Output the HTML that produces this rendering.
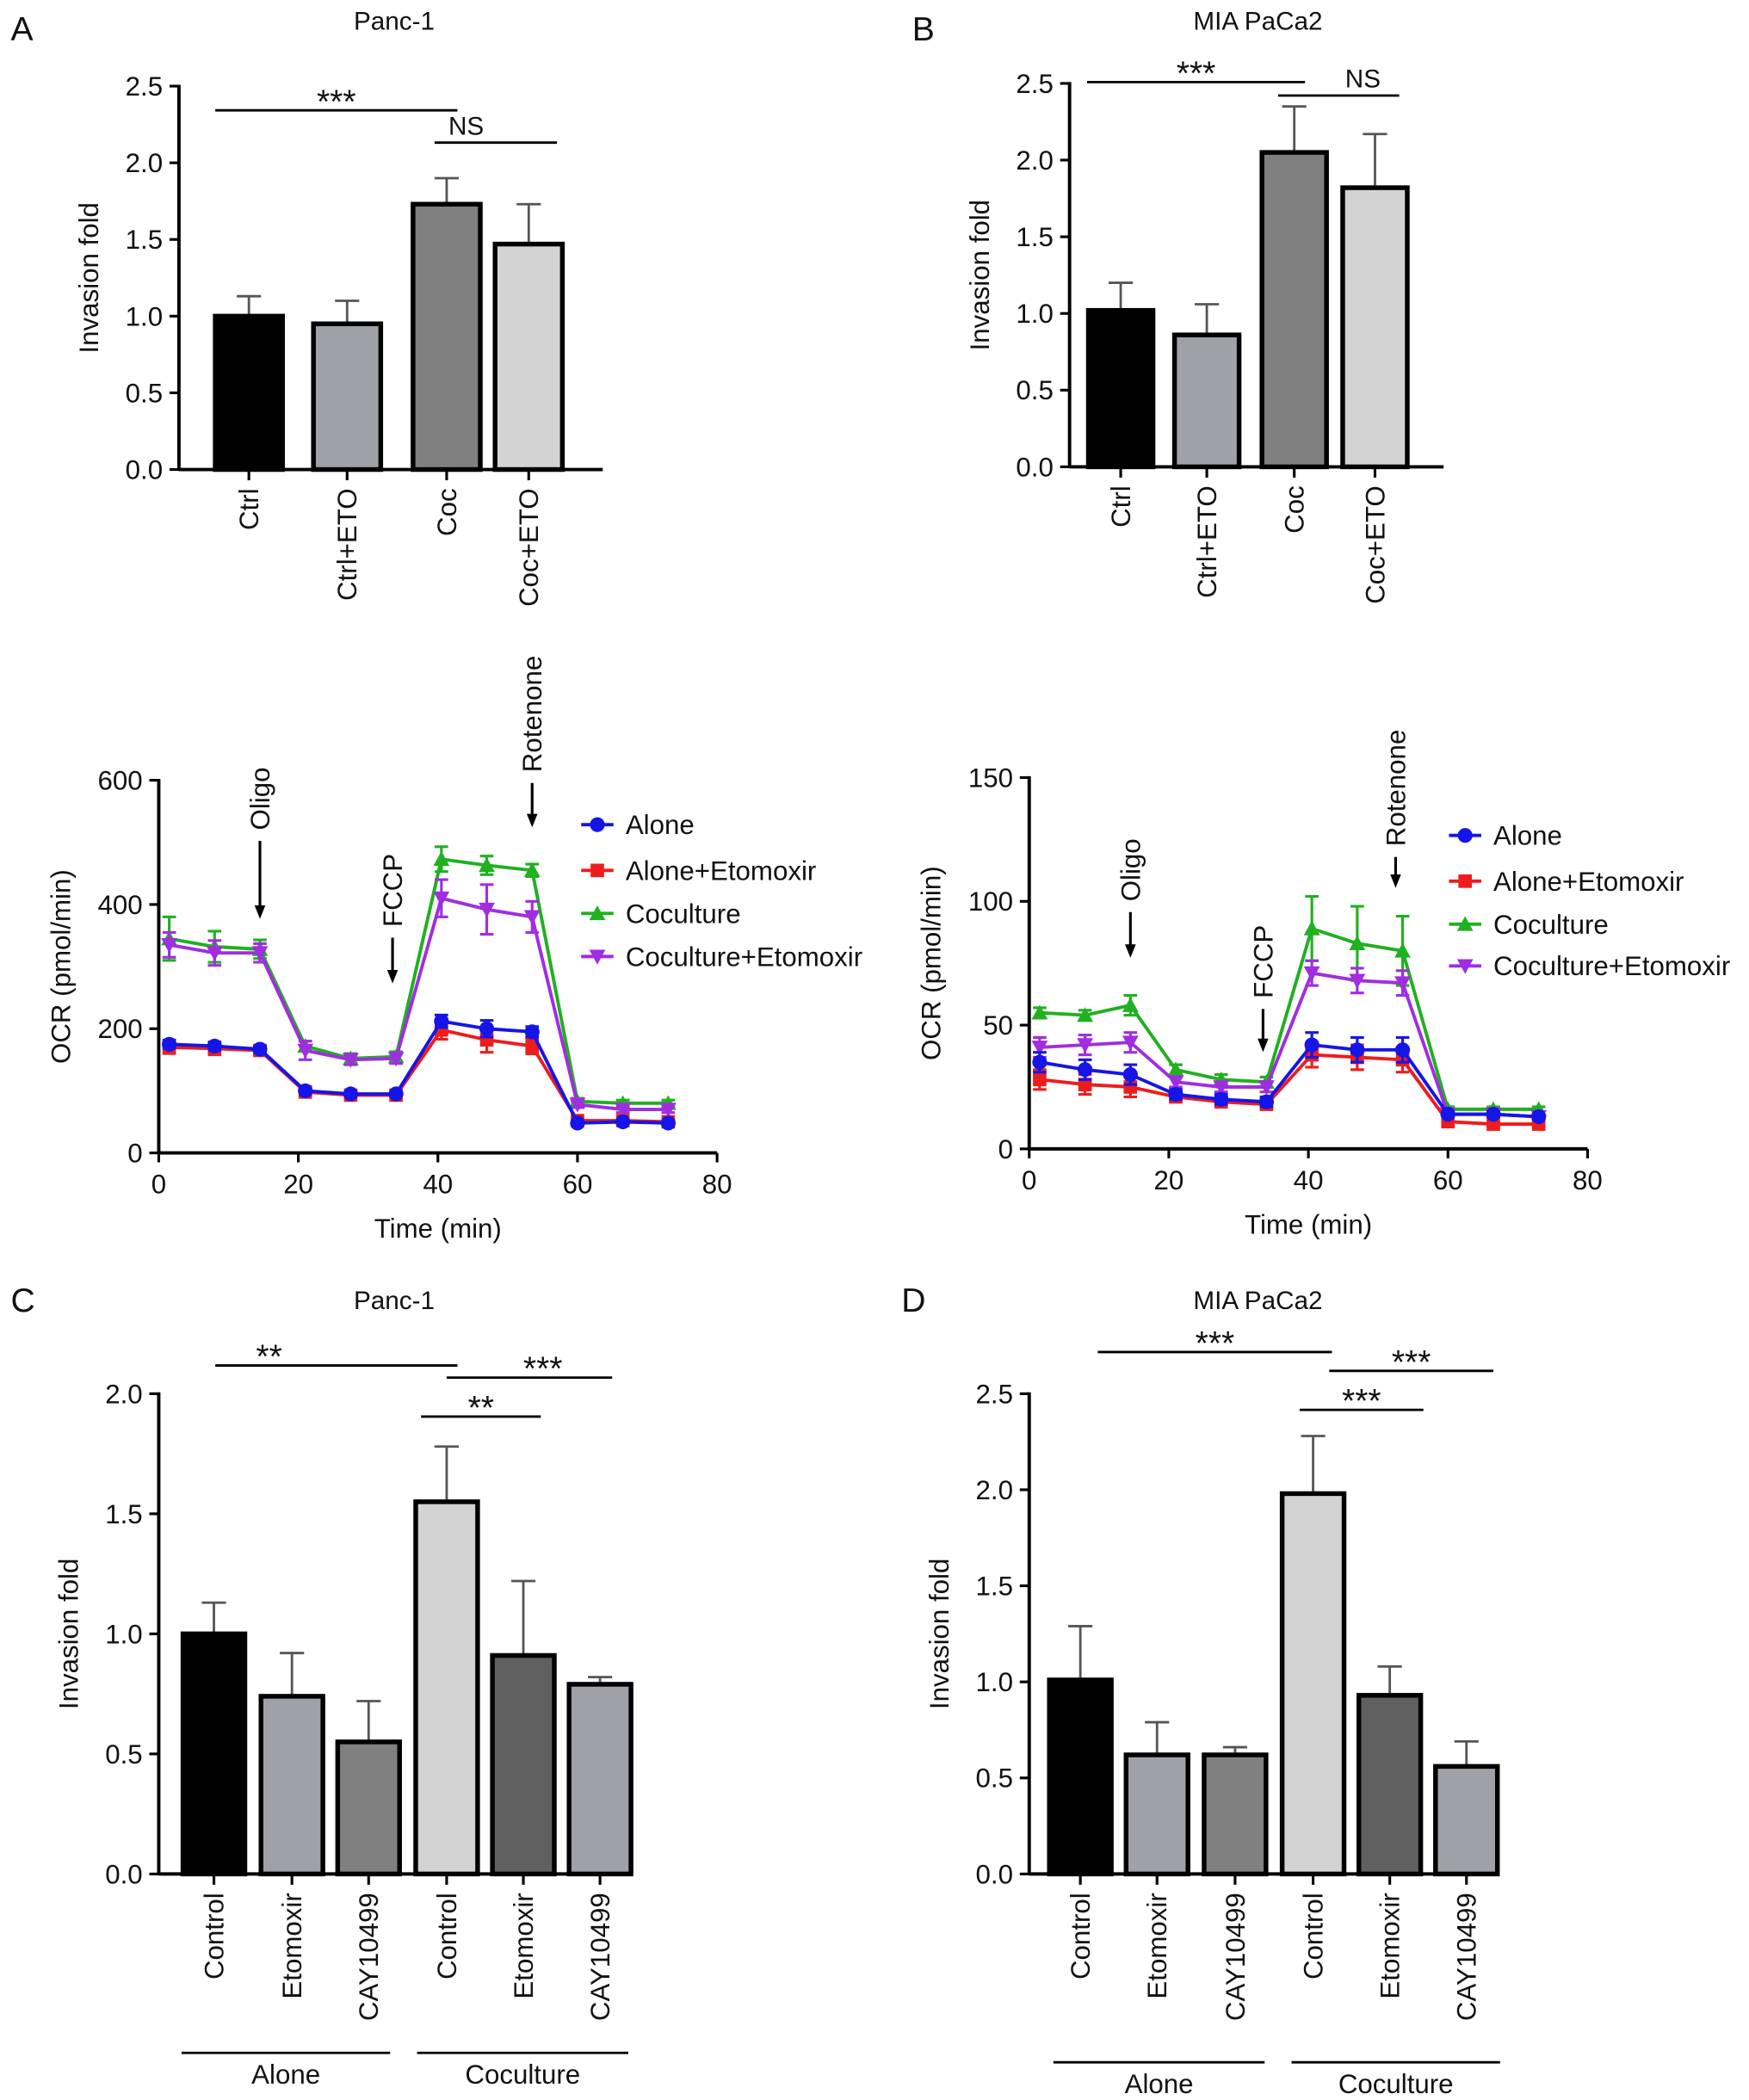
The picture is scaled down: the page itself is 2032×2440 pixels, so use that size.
<!DOCTYPE html>
<html><head><meta charset="utf-8"><style>
html,body{margin:0;padding:0;background:#fff;}
svg{display:block;font-family:"Liberation Sans",sans-serif;}
</style></head><body>
<svg id="fig" width="2032" height="2440" viewBox="0 0 1300 1561" xmlns="http://www.w3.org/2000/svg"></svg>
<script>
// ---------- Data ----------
const barCatsA = ["Ctrl","Ctrl+ETO","Coc","Coc+ETO"];
const barValsA = [1.0,0.95,1.73,1.47];
const barErrA = [0.13,0.15,0.17,0.26];
const barValsB = [1.02,0.86,2.05,1.82];
const barErrB = [0.18,0.2,0.3,0.35];
const barCatsC = ["Control","Etomoxir","CAY10499","Control","Etomoxir","CAY10499"];
const barValsC = [1.0,0.74,0.55,1.55,0.91,0.79];
const barErrC = [0.13,0.18,0.17,0.23,0.31,0.03];
const barValsD = [1.01,0.62,0.62,1.98,0.93,0.56];
const barErrD = [0.28,0.17,0.04,0.3,0.15,0.13];
const ticks25 = [0,0.5,1.0,1.5,2.0,2.5];
const ticks20 = [0,0.5,1.0,1.5,2.0];
const timePts = [1.5,8,14.5,21,27.5,34,40.5,47,53.5,60,66.5,73];
const seriesNames = ["Alone","Alone+Etomoxir","Coculture","Coculture+Etomoxir"];
const ocrL_alone = [175,172,167,100,95,95,212,200,195,48,50,48];
const ocrL_aloneEto = [170,168,165,98,93,93,198,182,172,52,52,50];
const ocrL_coc = [345,332,328,172,152,155,473,463,455,83,80,80];
const ocrL_cocEto = [335,322,322,165,150,152,410,392,380,78,70,70];
const ocrL_errCoc = [35,25,15,8,8,8,20,15,10,5,5,5];
const ocrL_errEto = [20,20,15,15,8,8,30,40,25,5,5,5];
const ocrR_alone = [35,32,30,22,20,19,42,40,40,14,14,13];
const ocrR_aloneEto = [28,26,25,21,19,18,38,37,36,11,10,10];
const ocrR_coc = [55,54,58,32,28,27,89,83,80,16,16,16];
const ocrR_cocEto = [41,42,43,27,25,25,71,68,67,14,14,13];
const ocrR_errCoc = [2,2,4,2,2,2,13,15,14,1,1,1];
const ocrR_errEto = [4,4,4,2,2,2,5,5,5,1,1,1];
const xTicks = [0,20,40,60,80];
const yTicksL = [0,200,400,600];
const yTicksR = [0,50,100,150];

const NS="http://www.w3.org/2000/svg";
const svg=document.getElementById('fig');
function el(tag,attrs,parent,txt){const e=document.createElementNS(NS,tag);for(const k in attrs)e.setAttribute(k,attrs[k]);if(txt!==undefined)e.textContent=txt;(parent||svg).appendChild(e);return e;}
function line(x1,y1,x2,y2,w,c,p){return el('line',{x1,y1,x2,y2,stroke:c||'#000','stroke-width':w||2},p);}
function text(x,y,s,size,anchor,p,rot){const a={x,y,'font-size':size,'text-anchor':anchor||'middle',fill:'#111'};if(rot)a.transform=`rotate(-90 ${x} ${y})`;return el('text',a,p,s);}

function barChart(o){
  const g=el('g',{});
  
  
  const ys=v=>o.y0-(v/o.ymax)*(o.y0-o.ytop);
  line(o.ax,o.ytop-1,o.ax,o.y0+1,2.5,'#000',g);
  line(o.ax,o.y0,o.xend,o.y0,2.5,'#000',g);
  o.ticks.forEach(t=>{const y=ys(t);line(o.ax-7,y,o.ax,y,2,'#000',g);
    const tl=text(o.ax-12,y+7,t.toFixed(1),20,'end',g);
    });
  const yl=text(o.ax-60,(o.y0+o.ytop)/2,'Invasion fold',20,'middle',g,true);
  
  o.vals.forEach((v,i)=>{const cx=o.cx[i],w=o.bw,y=ys(v);
    const ey=ys(v+o.err[i]);
    line(cx,y,cx,ey,1.8,'#555',g);line(cx-9,ey,cx+9,ey,1.8,'#555',g);
    const r=el('rect',{x:cx-w/2,y:y,width:w,height:o.y0-y,fill:o.colors[i],stroke:'#000','stroke-width':3.5},g);
    
    line(cx,o.y0,cx,o.y0+8,2,'#000',g);
    const tl=text(cx+7,o.y0+14,o.cats[i],20,'end',g,true);
    
  });
  o.brackets.forEach(b=>{line(b[0],b[2],b[1],b[2],1.8,'#000',g);
    const isNS=b[3]==='NS';
    const t=text((b[0]+b[1])/2+(b[4]||0),isNS?b[2]-6:b[2]+2,b[3],isNS?19:25,'middle',g);
    });
  const tt=text(o.titleX,o.titleY,o.title,19,'middle',g);
  
  if(o.letter){const pl=text(o.letterX,30,o.letter,25,'start',g);
  }
  if(o.groups)o.groups.forEach(gr=>{line(gr[0],o.groupY,gr[1],o.groupY,1.8,'#000',g);
    const t=text((gr[0]+gr[1])/2,o.groupY+23,gr[2],20,'middle',g);
    });
}

barChart({name:'panel-a-chart',ax:133,y0:349,ytop:64,ymax:2.5,xend:448,ticks:ticks25,vals:barValsA,err:barErrA,cats:barCatsA,
  cx:[185,258,332,393],bw:50,colors:['#000','#a0a0a8','#808080','#d3d3d3'],
  brackets:[[160,340,82,'***'],[323,414,106,'NS',-22]],title:'Panc-1',titleX:293,titleY:22,letter:'A',letterX:8});
barChart({name:'panel-b-chart',ax:795,y0:347,ytop:62,ymax:2.5,xend:1073,ticks:ticks25,vals:barValsB,err:barErrB,cats:barCatsA,
  cx:[833,897,962,1022],bw:48,colors:['#000','#a0a0a8','#808080','#d3d3d3'],
  brackets:[[808,970,61,'***'],[950,1040,71,'NS',18]],title:'MIA PaCa2',titleX:935,titleY:22,letter:'B',letterX:678});
barChart({name:'panel-c-chart',ax:118,y0:1393,ytop:1036,ymax:2.0,xend:470,ticks:ticks20,vals:barValsC,err:barErrC,cats:barCatsC,
  cx:[159,217,274,332,389,446],bw:46,colors:['#000','#a0a0a8','#808080','#d3d3d3','#606060','#a0a0a8'],
  brackets:[[160,340,1015,'**',-50],[332,455,1024,'***',10],[313,402,1053,'**']],title:'Panc-1',titleX:293,titleY:973,letter:'',letterX:0,
  groups:[[135,290,'Alone'],[310,467,'Coculture']],groupY:1526});
barChart({name:'panel-d-chart',ax:765,y0:1393,ytop:1036,ymax:2.5,xend:1113,ticks:ticks25,vals:barValsD,err:barErrD,cats:barCatsC,
  cx:[803,860,918,976,1033,1090],bw:46,colors:['#000','#a0a0a8','#808080','#d3d3d3','#606060','#a0a0a8'],
  brackets:[[816,990,1005,'***'],[988,1110,1019,'***'],[966,1058,1048,'***']],title:'MIA PaCa2',titleX:935,titleY:973,letter:'',letterX:0,
  groups:[[783,940,'Alone'],[960,1115,'Coculture']],groupY:1533});
[['C',8,975],['D',670,975]].forEach(l=>{const t=text(l[1],l[2],l[0],25,'start');
  });

function marker(g,type,x,y,c){
  let e;
  if(type===0)e=el('circle',{cx:x,cy:y,r:5.5,fill:c},g);
  else if(type===1)e=el('rect',{x:x-5,y:y-5,width:10,height:10,fill:c},g);
  else if(type===2)e=el('polygon',{points:`${x},${y-6} ${x-6},${y+5} ${x+6},${y+5}`,fill:c},g);
  else e=el('polygon',{points:`${x},${y+6} ${x-6},${y-5} ${x+6},${y-5}`,fill:c},g);
  return e;
}
function ocrChart(o){
  const g=el('g',{});
  
  
  const xs=t=>o.ax+t/80*(o.xend-o.ax);
  const ys=v=>o.y0-v/o.ymax*(o.y0-o.ytop);
  line(o.ax,o.ytop-1,o.ax,o.y0+1,2.5,'#000',g);
  line(o.ax,o.y0,o.xend,o.y0,2.5,'#000',g);
  o.yt.forEach(t=>{const y=ys(t);line(o.ax-7,y,o.ax,y,2,'#000',g);
    const l=text(o.ax-12,y+7,String(t),20,'end',g);});
  xTicks.forEach(t=>{const x=xs(t);line(x,o.y0,x,o.y0+7,2,'#000',g);
    const l=text(x,o.y0+30,String(t),20,'middle',g);});
  const xt=text(xs(40),o.y0+63,'Time (min)',20,'middle',g);
  const yt=text(o.ax-66,(o.y0+o.ytop)/2,'OCR (pmol/min)',20,'middle',g,true);
  const colors=['#1515e8','#ee1c1c','#20b020','#a02ee0'];
  const order=[2,3,1,0];
  order.forEach(si=>{const vals=o.series[si],err=o.errs[si],c=colors[si];
    const sg=el('g',{},g);
    
    
    const pts=timePts.map((t,i)=>xs(t)+','+ys(vals[i])).join(' ');
    el('polyline',{points:pts,fill:'none',stroke:c,'stroke-width':2.5},sg);
    timePts.forEach((t,i)=>{const x=xs(t),e=err[i];
      line(x,ys(vals[i]-e),x,ys(vals[i]+e),2,c,sg);
      line(x-5,ys(vals[i]+e),x+5,ys(vals[i]+e),2,c,sg);
      line(x-5,ys(vals[i]-e),x+5,ys(vals[i]-e),2,c,sg);
      const m=marker(sg,si,x,ys(vals[i]),c);
      });
  });
  o.arrows.forEach(a=>{const x=xs(a[0]);
    line(x,a[1],x,a[2]-8,2,'#000',g);
    el('polygon',{points:`${x-4},${a[2]-10} ${x+4},${a[2]-10} ${x},${a[2]}`,fill:'#000'},g);
    const t=text(x+7,a[1]-8,a[3],20,'start',g,true);});
  seriesNames.forEach((n,i)=>{const y=o.legY[i];const lg=el('g',{},g);
    
    line(o.legX,y,o.legX+24,y,2.5,colors[i],lg);marker(lg,i,o.legX+12,y,colors[i]);
    text(o.legX+33,y+7,n,20,'start',lg);});
}
ocrChart({name:'ocr-chart-panc1',ax:118,y0:857,ytop:580,ymax:600,xend:533,yt:yTicksL,
  series:[ocrL_alone,ocrL_aloneEto,ocrL_coc,ocrL_cocEto],errs:[ocrL_errEto.map(v=>v/3),ocrL_errEto.map(v=>v/2),ocrL_errCoc,ocrL_errEto],
  arrows:[[14.5,625,683,'Oligo'],[33.5,697,731,'FCCP'],[53.5,582,615,'Rotenone']],legX:432,legY:[613,647,679,711]});
ocrChart({name:'ocr-chart-miapaca2',ax:765,y0:854,ytop:578,ymax:150,xend:1180,yt:yTicksR,
  series:[ocrR_alone,ocrR_aloneEto,ocrR_coc,ocrR_cocEto],errs:[ocrR_errEto,ocrR_errEto,ocrR_errCoc,ocrR_errEto],
  arrows:[[14.5,678,712,'Oligo'],[33.5,750,782,'FCCP'],[52.5,637,660,'Rotenone']],legX:1077,legY:[621,655,687,718]});
</script>
</body></html>
